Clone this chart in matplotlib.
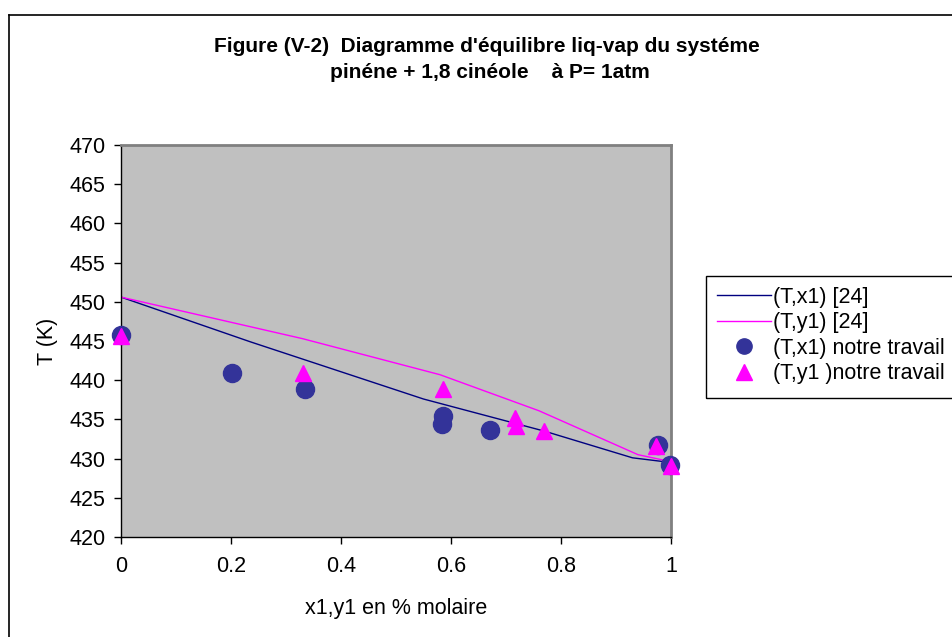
import matplotlib
matplotlib.use("Agg")
import matplotlib.pyplot as plt
from matplotlib.lines import Line2D
from matplotlib.patches import Rectangle

plt.rcParams['font.family'] = ['Liberation Sans', 'DejaVu Sans']

# literature curves [24]
x_lit = [0, 0.235, 0.55, 0.77, 0.93, 1.0]
T_x_lit = [450.6, 444.9, 437.6, 433.5, 430.1, 429.5]
y_lit = [0, 0.33, 0.58, 0.76, 0.94, 1.0]
T_y_lit = [450.6, 445.3, 440.7, 436.1, 430.5, 429.6]

# measured points (this work)
x1 = [0, 0.202, 0.335, 0.585, 0.583, 0.671, 0.976, 0.998]
T_x1 = [445.8, 440.9, 438.9, 435.4, 434.4, 433.6, 431.7, 429.2]
y1 = [0, 0.331, 0.586, 0.716, 0.718, 0.769, 0.973, 1.0]
T_y1 = [445.6, 440.9, 438.9, 435.2, 434.2, 433.5, 431.6, 429.1]

xticks = [0, 0.2, 0.4, 0.6, 0.8, 1]
xtick_labels = ['0', '0.2', '0.4', '0.6', '0.8', '1']
yticks = list(range(420, 471, 5))

W, H = 952, 637
fs = 15.5
fig = plt.figure(figsize=(W / 100, H / 100), dpi=100)
ax = fig.add_axes([121 / W, 1 - 537 / H, 550 / W, 392 / H])
ax.set_facecolor('#C0C0C0')

ax.plot(x_lit, T_x_lit, color='#000080', lw=1.0, zorder=2)
ax.plot(y_lit, T_y_lit, color='#FF00FF', lw=1.0, zorder=2)
ax.plot(x1, T_x1, 'o', color='#333399', ms=13, mec='#333399', clip_on=False, zorder=3)
ax.plot(y1, T_y1, '^', color='#FF00FF', ms=12, mec='#FF00FF', clip_on=False, zorder=4)

ax.set_xlim(0, 1)
ax.set_ylim(420, 470)
ax.set_xticks(xticks)
ax.set_xticklabels(xtick_labels)
ax.set_yticks(yticks)
ax.tick_params(axis='both', direction='out', length=5, width=1, labelsize=fs, colors='black')
ax.tick_params(axis='y', pad=6)
ax.tick_params(axis='x', pad=9)

for s in ('top', 'right'):
    ax.spines[s].set_color('#808080')
    ax.spines[s].set_linewidth(2)
for s in ('left', 'bottom'):
    ax.spines[s].set_color('black')
    ax.spines[s].set_linewidth(1)

ax.set_xlabel('x1,y1 en % molaire', fontsize=fs, labelpad=15)
ax.set_ylabel('T (K)', fontsize=fs, labelpad=8)

fig.text(487 / W, 1 - 46 / H, "Figure (V-2)  Diagramme d'équilibre liq-vap du systéme",
         ha='center', va='center', fontsize=15, fontweight='bold')
fig.text(490 / W, 1 - 73 / H, "pinéne + 1,8 cinéole    à P= 1atm",
         ha='center', va='center', fontsize=15, fontweight='bold')

# chart frame (left and top edges)
fig.add_artist(Line2D([9 / W, 9 / W], [0, 1 - 15 / H], color='black', lw=1.2))
fig.add_artist(Line2D([9 / W, 1], [1 - 15 / H, 1 - 15 / H], color='black', lw=1.2))

# legend box runs off the right edge
fig.add_artist(Rectangle((706 / W, 1 - 398 / H), 260 / W, 122 / H,
                         transform=fig.transFigure, fill=False, edgecolor='black', lw=1))

handles = [
    Line2D([], [], color='#000080', lw=1.0),
    Line2D([], [], color='#FF00FF', lw=1.0),
    Line2D([], [], marker='o', ls='', color='#333399', ms=11),
    Line2D([], [], marker='^', ls='', color='#FF00FF', ms=11),
]
labels = ['(T,x1) [24]', '(T,y1) [24]', '(T,x1) notre travail', '(T,y1 )notre travail']
leg = fig.legend(handles, labels, loc='upper left', bbox_to_anchor=(706 / W, 1 - 276 / H),
                 fontsize=fs, frameon=False,
                 handlelength=2.5, handletextpad=0.12, labelspacing=0.21,
                 borderpad=0.5, borderaxespad=0)

fig.savefig('out.png', dpi=100)
